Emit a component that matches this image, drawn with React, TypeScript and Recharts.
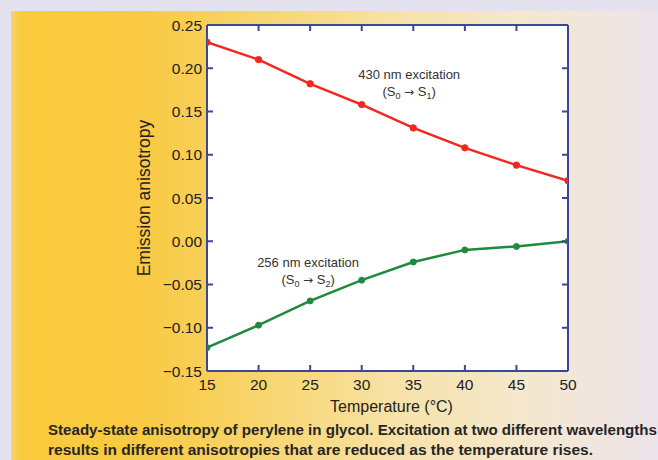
import React from 'react';
import { LineChart, Line, XAxis, YAxis, CartesianGrid, ReferenceDot } from 'recharts';

const temperatures = [15, 20, 25, 30, 35, 40, 45, 50];
const anisotropy430 = [0.23, 0.21, 0.182, 0.158, 0.131, 0.108, 0.088, 0.07];
const anisotropy256 = [-0.123, -0.097, -0.069, -0.045, -0.024, -0.01, -0.006, 0.0];
const xTicks = [15, 20, 25, 30, 35, 40, 45, 50];
const yTicks = [-0.15, -0.1, -0.05, 0, 0.05, 0.1, 0.15, 0.2, 0.25];
const xTitle = 'Temperature (°C)';
const yTitle = 'Emission anisotropy';
const caption1 = 'Steady-state anisotropy of perylene in glycol. Excitation at two different wavelengths';
const caption2 = 'results in different anisotropies that are reduced as the temperature rises.';
const annotX = [34.6, 24.8];
const annotY = [0.187, -0.03];
const annotTitles = ['430 nm excitation', '256 nm excitation'];
const annotLower = ['0', '0'];
const annotUpper = ['1', '2'];

const data = temperatures.map((t, i) => ({ t, a430: anisotropy430[i], a256: anisotropy256[i] }));

const FONT = '"Liberation Sans", Arial, Helvetica, sans-serif';
const BLUE = '#3a479c';
const RED = '#f2281f';
const GREEN = '#1f8a3e';
const TICK_LEN = 6;
const LEFT_MARGIN = 5;
const BOTTOM_MARGIN = 8;

const fmt = (v: number) => (v < 0 ? '\u2212' : '') + Math.abs(v).toFixed(2);

const Annotation = (props: any) => {
  const { cx, cy, title, lower, upper } = props;
  return (
    <g fontFamily={FONT} fontSize={13} fill="#333">
      <text x={cx} y={cy} textAnchor="middle">{title}</text>
      <text x={cx} y={cy + 17} textAnchor="middle">
        (S<tspan fontSize={9} dy={3}>{lower}</tspan>
        <tspan dy={-3}> </tspan>
        <tspan fontFamily='"DejaVu Sans", sans-serif' fontSize={12}>{'\u2192'}</tspan>
        <tspan> S</tspan>
        <tspan fontSize={9} dy={3}>{upper}</tspan>
        <tspan dy={-3}>)</tspan>
      </text>
    </g>
  );
};

const XTitle = (props: any) => {
  const vb = props.viewBox || { x: 0, y: 0, width: 0, height: 0 };
  return (
    <text x={vb.x + vb.width / 2 + 4} y={vb.y + 41} textAnchor="middle" fontFamily={FONT} fontSize={16} fill="#222">
      {xTitle}
    </text>
  );
};

const YTitle = (props: any) => {
  const vb = props.viewBox || { x: 0, y: 0, width: 0, height: 0 };
  const x = vb.x + 3;
  const y = vb.y + vb.height / 2;
  return (
    <text x={x} y={y} transform={`rotate(-90, ${x}, ${y})`} textAnchor="middle" fontFamily={FONT} fontSize={17.5} fill="#222">
      {yTitle}
    </text>
  );
};

const LeftTick = (props: any) => {
  const { x, y, payload } = props;
  const axisX = x + LEFT_MARGIN;
  return (
    <g>
      <line x1={axisX} x2={axisX + TICK_LEN} y1={y} y2={y} stroke={BLUE} strokeWidth={2} />
      <text x={x} y={y} dy="0.36em" textAnchor="end" fontFamily={FONT} fontSize={15.5} fill="#222">
        {fmt(payload.value)}
      </text>
    </g>
  );
};

const BottomTick = (props: any) => {
  const { x, y, payload } = props;
  const axisY = y - BOTTOM_MARGIN;
  return (
    <g>
      <line x1={x} x2={x} y1={axisY} y2={axisY - TICK_LEN} stroke={BLUE} strokeWidth={2} />
      <text x={x} y={y} dy="0.72em" textAnchor="middle" fontFamily={FONT} fontSize={15.5} fill="#222">
        {payload.value}
      </text>
    </g>
  );
};

const TopTick = (props: any) => {
  const { x, y } = props;
  return <line x1={x} x2={x} y1={y} y2={y + TICK_LEN} stroke={BLUE} strokeWidth={2} />;
};

const RightTick = (props: any) => {
  const { x, y } = props;
  return <line x1={x} x2={x - TICK_LEN} y1={y} y2={y} stroke={BLUE} strokeWidth={2} />;
};

export default function App() {
  return (
    <div style={{ position: 'absolute', left: 0, top: 0, width: 658, height: 460, background: '#e4e2ef', overflow: 'hidden' }}>
      <div
        style={{
          position: 'absolute',
          left: 11,
          top: 11,
          width: 647,
          height: 449,
          background:
            'linear-gradient(to right, #f6d36e 0%, #fbca3c 1.5%, #f9ca42 20%, #f8cf58 30%, #f8d97f 45%, #f7e2a8 60%, #f5e8cc 78%, #f1e6de 90%, #ece4ec 100%)',
        }}
      />
      <div style={{ position: 'absolute', left: 0, top: 0 }}>
        <LineChart width={658} height={460} data={data} margin={{ top: 24, right: 89, bottom: 59, left: 147 }}>
          <CartesianGrid horizontal={false} vertical={false} fill="#ffffff" fillOpacity={1} />
          <XAxis
            dataKey="t"
            type="number"
            domain={[15, 50]}
            ticks={xTicks}
            allowDataOverflow
            height={30}
            axisLine={{ stroke: BLUE, strokeWidth: 2 }}
            tickLine={false}
            tickSize={0}
            tickMargin={BOTTOM_MARGIN}
            tick={<BottomTick />}
            label={<XTitle />}
          />
          <XAxis
            xAxisId="top"
            orientation="top"
            dataKey="t"
            type="number"
            domain={[15, 50]}
            ticks={xTicks}
            allowDataOverflow
            height={1}
            axisLine={{ stroke: BLUE, strokeWidth: 2 }}
            tickLine={false}
            tickSize={0}
            tickMargin={0}
            tick={<TopTick />}
          />
          <YAxis
            type="number"
            domain={[-0.15, 0.25]}
            ticks={yTicks}
            allowDataOverflow
            width={60}
            axisLine={{ stroke: BLUE, strokeWidth: 2 }}
            tickLine={false}
            tickSize={0}
            tickMargin={LEFT_MARGIN}
            tick={<LeftTick />}
            label={<YTitle />}
          />
          <YAxis
            yAxisId="right"
            orientation="right"
            type="number"
            domain={[-0.15, 0.25]}
            ticks={yTicks}
            allowDataOverflow
            width={1}
            axisLine={{ stroke: BLUE, strokeWidth: 2 }}
            tickLine={false}
            tickSize={0}
            tickMargin={0}
            tick={<RightTick />}
          />
          <Line
            dataKey="a430"
            stroke={RED}
            strokeWidth={2.5}
            dot={{ r: 3.2, fill: RED, stroke: RED, strokeWidth: 1 }}
            isAnimationActive={false}
          />
          <Line
            dataKey="a256"
            stroke={GREEN}
            strokeWidth={2.5}
            dot={{ r: 3, fill: GREEN, stroke: GREEN, strokeWidth: 1 }}
            isAnimationActive={false}
          />
          {annotTitles.map((title, i) => (
            <ReferenceDot
              key={title}
              x={annotX[i]}
              y={annotY[i]}
              r={0}
              shape={(p: any) => <Annotation cx={p.cx} cy={p.cy} title={title} lower={annotLower[i]} upper={annotUpper[i]} />}
            />
          ))}
        </LineChart>
      </div>
      <svg width={658} height={460} style={{ position: 'absolute', left: 0, top: 0, pointerEvents: 'none' }}>
        <g fontFamily={FONT} fontWeight="bold" fontSize={14} fill="#262626">
          <text x={48} y={435} textLength={609} lengthAdjust="spacingAndGlyphs">{caption1}</text>
          <text x={48} y={455} textLength={545} lengthAdjust="spacingAndGlyphs">{caption2}</text>
        </g>
      </svg>
    </div>
  );
}
